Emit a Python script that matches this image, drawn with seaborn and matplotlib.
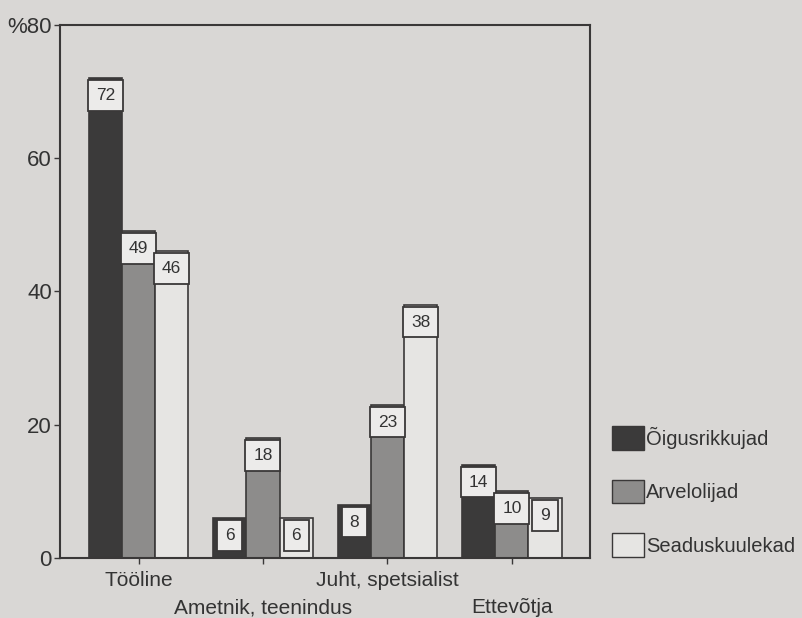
import pandas as pd
import matplotlib.pyplot as plt
import seaborn as sns
from matplotlib.patches import Patch

categories = ["Tööline", "Ametnik, teenindus", "Juht, spetsialist", "Ettevõtja"]
groups = ["Õigusrikkujad", "Arvelolijad", "Seaduskuulekad"]
oigusrikkujad = [72, 6, 8, 14]
arvelolijad = [49, 18, 23, 10]
seaduskuulekad = [46, 6, 38, 9]

rows = []
for name, vals in zip(groups, [oigusrikkujad, arvelolijad, seaduskuulekad]):
    for cat, v in zip(categories, vals):
        rows.append({"cat": cat, "group": name, "value": v})
df = pd.DataFrame(rows)

bg = "#d9d7d5"
colors = ["#3b3a3a", "#8d8c8b", "#e6e5e3"]

sns.set_style("white")
plt.rcParams["font.family"] = ["Liberation Sans", "DejaVu Sans"]

fig = plt.figure(figsize=(8.02, 6.18), dpi=100, facecolor=bg)
ax = fig.add_axes([0.075, 0.097, 0.661, 0.863])
ax.set_facecolor(bg)

sns.barplot(data=df, x="cat", y="value", hue="group", palette=colors,
            hue_order=groups, order=categories, ax=ax, width=0.8,
            edgecolor="#3a3838", linewidth=1.2, legend=False)

# value boxes sitting on top of the bars
for container in ax.containers:
    for bar in container:
        h = bar.get_height()
        x = bar.get_x() + bar.get_width() / 2
        ax.text(x, h - 2.6, f"{h:.0f}", ha="center", va="center", fontsize=12.5,
                color="#333333",
                bbox=dict(boxstyle="square,pad=0.45", fc="#ecebea", ec="#3a3838", lw=1.3))

ax.set_xlim(-0.63, 3.63)
ax.set_ylim(0, 80)
ax.set_yticks([0, 20, 40, 60, 80])
ax.set_yticklabels(["0", "20", "40", "60", "%80"], fontsize=16, color="#333333")
ax.set_xticks(range(4))
ax.set_xticklabels(categories, fontsize=15, color="#333333")
ax.tick_params(axis="y", length=4, width=1, color="#3a3838", left=True, pad=2)
ax.tick_params(axis="x", length=4, width=1, color="#3a3838", bottom=True, pad=5)
# stagger the category labels on two rows
for i, t in enumerate(ax.xaxis.get_major_ticks()):
    if i % 2 == 1:
        t.set_pad(25)
ax.set_xlabel("")
ax.set_ylabel("")
for s in ax.spines.values():
    s.set_color("#3a3838")
    s.set_linewidth(1.5)

handles = [Patch(facecolor=c, edgecolor="#3a3838", label=g) for c, g in zip(colors, groups)]
fig.legend(handles=handles, loc="lower left", bbox_to_anchor=(0.74, 0.07),
           frameon=False, fontsize=14.5, labelspacing=1.5, handlelength=1.6,
           handleheight=1.4, handletextpad=0.1, labelcolor="#333333")

fig.savefig("out.png", dpi=100, facecolor=bg)
